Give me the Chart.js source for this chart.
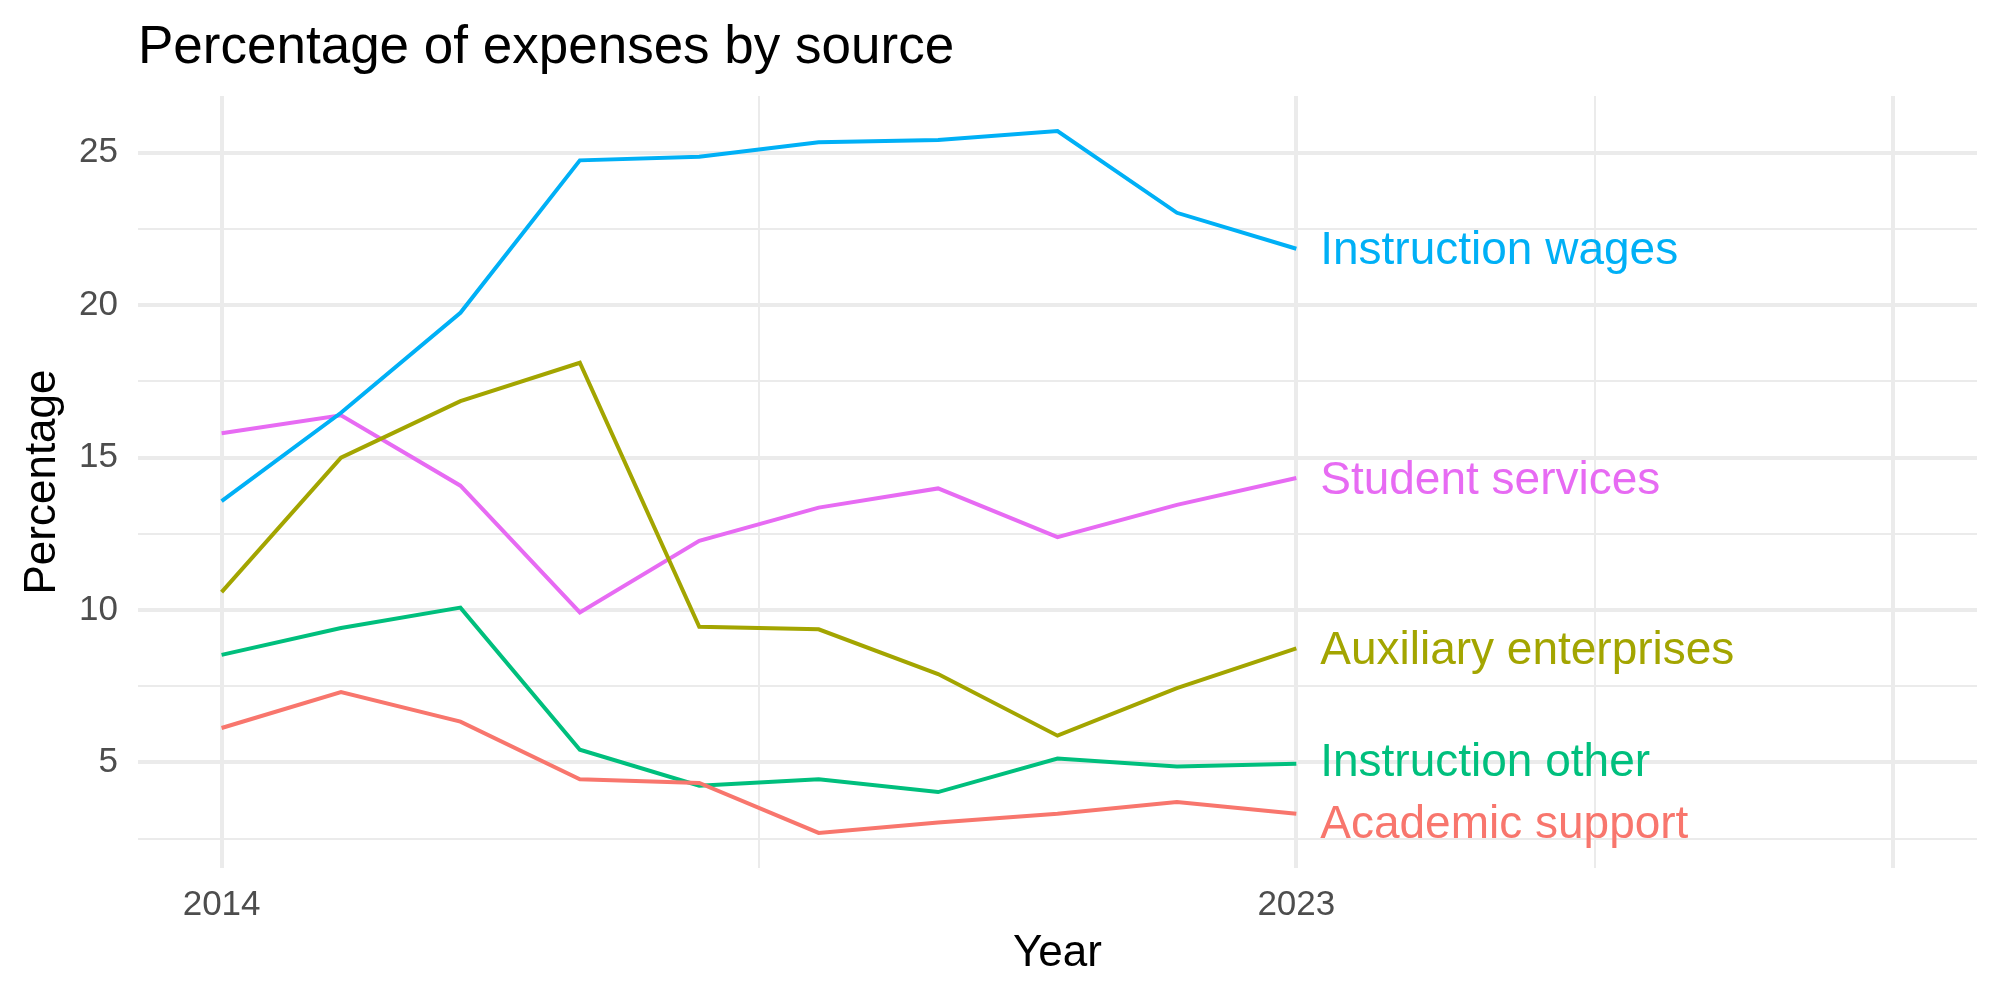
<!DOCTYPE html>
<html>
<head>
<meta charset="utf-8">
<script src="https://cdn.jsdelivr.net/npm/chart.js@4"></script>
<style>
  html, body { margin: 0; padding: 0; background: #fff; }
  #wrap { width: 2000px; height: 1000px; position: relative; }
</style>
</head>
<body>
<div id="wrap"><canvas id="chart" width="2000" height="1000"></canvas></div>
<script>
// data
const years = [2014, 2015, 2016, 2017, 2018, 2019, 2020, 2021, 2022, 2023];
const seriesNames = ["Academic support", "Auxiliary enterprises", "Instruction other", "Instruction wages", "Student services"];
const seriesColors = ["#F8766D", "#A3A500", "#00BF7D", "#00B0F6", "#E76BF3"];

const academicSupport = [6.13, 7.31, 6.34, 4.45, 4.33, 2.69, 3.03, 3.32, 3.70, 3.32];
const auxiliaryEnterprises = [10.59, 15.00, 16.85, 18.11, 9.45, 9.37, 7.90, 5.88, 7.44, 8.74];
const instructionOther = [8.53, 9.41, 10.08, 5.42, 4.24, 4.45, 4.03, 5.13, 4.87, 4.96];
const instructionWages = [13.57, 16.47, 19.75, 24.75, 24.87, 25.34, 25.42, 25.71, 23.03, 21.85];
const studentServices = [15.80, 16.39, 14.08, 9.92, 12.27, 13.36, 13.99, 12.39, 13.45, 14.33];

const xBreaks = [2014, 2018.5, 2023, 2025.5, 2028];
const xLabels = [2014, 2023];
const yBreaks = [2.5, 5, 7.5, 10, 12.5, 15, 17.5, 20, 22.5, 25];
const yLabels = [5, 10, 15, 20, 25];

const allSeries = [academicSupport, auxiliaryEnterprises, instructionOther, instructionWages, studentServices];

// ggplot style 5% expansion
const xLo = 2014, xHi = 2028;
const xPad = (xHi - xLo) * 0.05;
const allVals = allSeries.flat();
const yLo = Math.min(...allVals), yHi = Math.max(...allVals);
const yPad = (yHi - yLo) * 0.05;

const FONT = '"Liberation Sans", Arial, sans-serif';

const datasets = allSeries.map((vals, i) => ({
  label: seriesNames[i],
  data: years.map((y, j) => ({ x: y, y: vals[j] })),
  borderColor: seriesColors[i],
  borderWidth: 4,
  pointRadius: 0,
  tension: 0,
  fill: false
}));

// text labels at the end of each line (pushed apart a bit when too close, like repel)
// + title lined up with the panel
const extras = {
  id: 'extras',
  afterDatasetsDraw(chart) {
    const ctx = chart.ctx;
    const xs = chart.scales.x, ys = chart.scales.y;
    const minGap = 62;
    let labs = allSeries.map((vals, i) => ({ i: i, y: ys.getPixelForValue(vals[vals.length - 1]) }));
    labs.sort((a, b) => a.y - b.y);
    for (let k = 1; k < labs.length; k++) {
      const d = labs[k].y - labs[k - 1].y;
      if (d < minGap) {
        const push = (minGap - d) / 2;
        labs[k - 1].y -= push * 0.6;
        labs[k].y += push * 1.4;
      }
    }
    ctx.save();
    ctx.font = '46px ' + FONT;
    ctx.textAlign = 'left';
    ctx.textBaseline = 'middle';
    labs.forEach(l => {
      ctx.fillStyle = seriesColors[l.i];
      ctx.fillText(seriesNames[l.i], xs.getPixelForValue(years[years.length - 1] + 0.2), l.y + 3);
    });
    ctx.font = '53px ' + FONT;
    ctx.textBaseline = 'alphabetic';
    ctx.fillStyle = '#000';
    ctx.fillText('Percentage of expenses by source', chart.chartArea.left, 63);
    ctx.restore();
  }
};

const gridColor = '#EBEBEB';

new Chart(document.getElementById('chart'), {
  type: 'line',
  data: { datasets: datasets },
  plugins: [extras],
  options: {
    responsive: false,
    animation: false,
    layout: { padding: { left: 16, right: 23, top: 96, bottom: 20 } },
    plugins: {
      legend: { display: false },
      tooltip: { enabled: false },
      title: { display: false }
    },
    scales: {
      x: {
        type: 'linear',
        min: xLo - xPad,
        max: xHi + xPad,
        afterBuildTicks(scale) { scale.ticks = xBreaks.map(v => ({ value: v })); },
        afterFit(scale) { scale.height = 112; },
        border: { display: false },
        grid: {
          color: gridColor,
          lineWidth: c => xLabels.includes(c.tick.value) || c.tick.value === 2028 ? 4 : 2,
          drawTicks: false
        },
        ticks: {
          autoSkip: false,
          maxRotation: 0,
          padding: 16,
          color: '#4D4D4D',
          font: { family: FONT, size: 35 },
          callback: v => xLabels.includes(v) ? String(v) : ''
        },
        title: {
          display: true,
          text: 'Year',
          color: '#000',
          font: { family: FONT, size: 44 },
          padding: { top: 0, bottom: 0 }
        }
      },
      y: {
        type: 'linear',
        min: yLo - yPad,
        max: yHi + yPad,
        afterBuildTicks(scale) { scale.ticks = yBreaks.map(v => ({ value: v })); },
        afterFit(scale) { scale.width = 122; },
        border: { display: false },
        grid: {
          color: gridColor,
          lineWidth: c => yLabels.includes(c.tick.value) ? 4 : 2,
          drawTicks: false
        },
        ticks: {
          autoSkip: false,
          padding: 20,
          color: '#4D4D4D',
          font: { family: FONT, size: 35 },
          callback: v => yLabels.includes(v) ? String(v) : ''
        },
        title: {
          display: true,
          text: 'Percentage',
          color: '#000',
          font: { family: FONT, size: 44 },
          padding: { top: 0, bottom: 0 }
        }
      }
    }
  }
});
</script>
</body>
</html>
